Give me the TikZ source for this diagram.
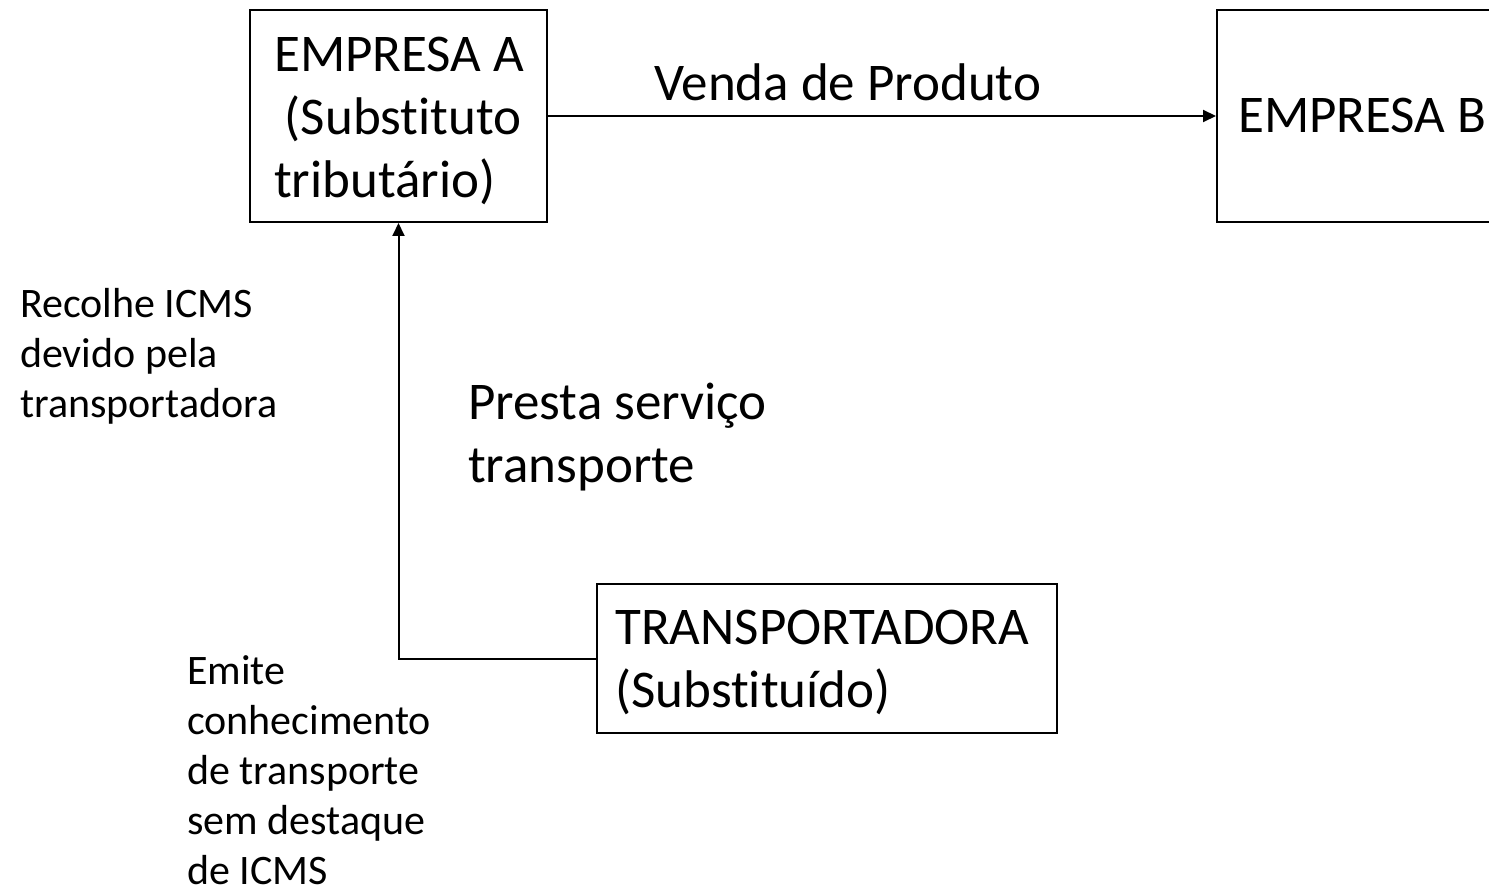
\documentclass[tikz,border=0pt]{standalone}
\usepackage{fontspec}
\setmainfont{Carlito}[Ligatures={TeX,NoCommon}]
\usetikzlibrary{arrows.meta}
\tikzset{
  box/.style={draw=black, line width=2pt, inner sep=0pt},
  big/.style={font=\fontsize{53}{63}\selectfont, inner sep=0pt, anchor=base west, align=left},
  small/.style={font=\fontsize{42}{50}\selectfont, inner sep=0pt, anchor=base west, align=left},
  arr/.style={line width=2pt, -{Triangle[length=13pt,width=12pt]}},
}
\begin{document}
\begin{tikzpicture}[x=1pt,y=-1pt]
\useasboundingbox (0,0) rectangle (1489,896);
\clip (0,0) rectangle (1489,896);
% boxes
\node[box, minimum width=297pt, minimum height=212pt] (A) at (398.5,116) {};
\node[box, minimum width=300pt, minimum height=212pt] (B) at (1367,116) {};
\node[box, minimum width=460pt, minimum height=149pt] (T) at (827,658.5) {};
% box texts (anchor at baseline of last line)
\node[big] (tA) at (274,198) {EMPRESA A\\\hspace{0.2em}(Substituto\\tributário)};
\node[big] (tB) at (1238,133) {EMPRESA B};
\node[big] (tT) at (615,707) {TRANSPORTADORA\\(Substituído)};
% labels
\node[big] (venda) at (654,101) {Venda de Produto};
\node[big] (presta) at (468,482) {Presta serviço\\transporte};
\node[small] (recolhe) at (20,417) {Recolhe ICMS\\devido pela\\transportadora};
\node[small] (emite) at (187,884) {Emite\\conhecimento\\de transporte\\sem destaque\\de ICMS};
% connectors
\draw[arr] (A.east) -- (B.west);
\draw[arr] (T.west) -| (A.south);
\end{tikzpicture}
\end{document}
